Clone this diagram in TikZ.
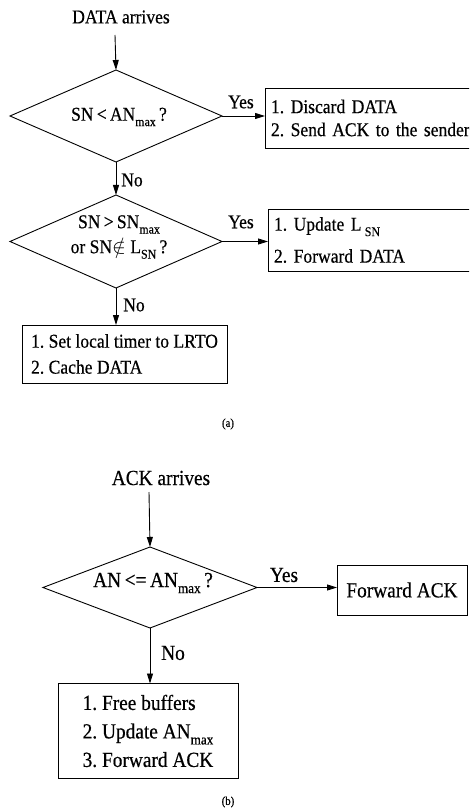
\documentclass[tikz,border=0pt]{standalone}
\usepackage{fontspec}
\usepackage{graphicx}
\setmainfont[FakeStretch=0.9,FakeBold=0.5]{Liberation Serif}
\usetikzlibrary{shapes.geometric,arrows.meta}
\frenchspacing
% lowered, reduced index text
\newcommand{\lowidx}[1]{\raisebox{-0.28em}{\scalebox{0.68}{#1}}}

\begin{document}
\begin{tikzpicture}[x=1pt,y=-1pt,
  every node/.style={inner sep=0pt, outer sep=0pt},
  ln/.style={line width=0.9pt},
  arr/.style={ln, -{Triangle[length=10pt,width=6pt]}},
  dia/.style={draw, ln, diamond, inner sep=0pt},
  fa/.style={font=\fontsize{19.5}{23}\selectfont},
  fb/.style={font=\fontsize{21.5}{28.5}\selectfont},
  captxt/.style={font=\fontsize{12}{14}\selectfont},
  boxa/.style={draw, ln, rectangle, align=left, fa, inner xsep=6pt},
  boxb/.style={draw, ln, rectangle, align=left, fb},
]
\useasboundingbox (0,0) rectangle (469,810);
\clip (0,0) rectangle (469,810);

% ---------- (a) DATA arrival ----------
\node[fa] (din) at (121,17) {DATA arrives};
\coordinate (s1) at (115,35);

\node[dia, minimum width=212pt, minimum height=92pt] (d1) at (116,116) {};
\node[fa] (d1t) at (119,117) {SN\,<\,AN\lowidx{max}\,?};

\node[boxa, anchor=west, text width=210pt, minimum height=60pt] (b1) at (265,118)
  {1. Discard DATA\\2. Send ACK to the sender};

\node[dia, minimum width=212pt, minimum height=93pt] (d2) at (116,241.5) {};
\node[fa, align=center, font=\fontsize{19.5}{25}\selectfont] (d2t) at (119,237)
  {SN\,>\,SN\lowidx{max}\\or SN$\notin$ L\lowidx{SN}\,?};

\node[boxa, anchor=west, text width=210pt, minimum height=62pt,
      font=\fontsize{19.5}{32}\selectfont] (b2) at (268,240)
  {1. Update L\,\lowidx{SN}\\2. Forward DATA};

\node[boxa, inner xsep=5pt, minimum width=205pt, minimum height=58pt,
      font=\fontsize{19.5}{26}\selectfont] (b3) at (124.5,354)
  {1. Set local timer to LRTO\\2. Cache DATA};

\draw[arr] (s1) -- (d1.north);
\draw[arr] (d1.east) -- (d1.east -| b1.west);
\draw[arr] (d1.south) -- (d2.north);
\draw[arr] (d2.east) -- (d2.east -| b2.west);
\draw[arr] (d2.south) -- (d2.south |- b3.north);

\node[fa] (y1) at (241,102) {Yes};
\node[fa] (n1) at (132,180) {No};
\node[fa] (y2) at (241,222) {Yes};
\node[fa] (n2) at (134,305) {No};

\node[captxt] (ca) at (228,424) {(a)};

% ---------- (b) ACK arrival ----------
\node[fb] (ain) at (161,478) {ACK\ arrives};
\coordinate (s2) at (149,492);

\node[dia, minimum width=214pt, minimum height=81pt] (d3) at (150,587.5) {};
\node[fb] (d3t) at (153,583) {AN\,<=\,AN\lowidx{max}\,?};

\node[boxb, minimum width=130pt, minimum height=50pt, align=center] (b4) at (402,590)
  {Forward ACK};

\node[boxb, minimum width=180pt, minimum height=95pt] (b5) at (148,731)
  {1. Free buffers\\2. Update AN\lowidx{max}\\3. Forward ACK};

\draw[arr] (s2) -- (d3.north);
\draw[arr] (d3.east) -- (d3.east -| b4.west);
\draw[arr] (d3.south) -- (d3.south |- b5.north);

\node[fb] (y3) at (284,575) {Yes};
\node[fb] (n3) at (173,653) {No};

\node[captxt] (cb) at (228,802) {(b)};
\end{tikzpicture}
\end{document}
